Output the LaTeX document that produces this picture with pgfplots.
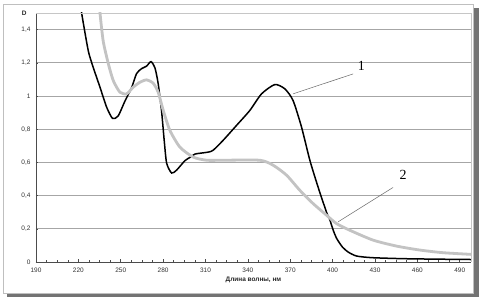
\documentclass[border=0pt]{standalone}
\usepackage{fontspec}
\setmainfont{Liberation Sans}
\newfontfamily\seriffont{Liberation Serif}
\usepackage{pgfplots}
\pgfplotsset{compat=1.18}
\definecolor{lgray}{RGB}{195,195,195}
\begin{document}
\begin{tikzpicture}
\path[use as bounding box] (-36bp,-35bp) rectangle (443bp,262bp);
\fill[black!55] (-29bp,-35bp) rectangle (443bp,254bp);
\fill[white] (-33bp,-31bp) rectangle (437bp,258bp);
\draw[gray!50, line width=0.6bp] (-33bp,-31bp) rectangle (437bp,258bp);
\begin{axis}[
  at={(0,0)}, anchor=south west,
  scale only axis, width=435bp, height=249bp,
  xmin=190, xmax=498, ymin=0, ymax=1.5,
  axis lines*=left,
  axis line style={black!70, line width=0.8bp},
  clip=true,
  xtick={190,220,...,490},
  minor x tick num=3,
  ytick={0,0.2,...,1.4},
  ymajorgrids,
  major grid style={gray!70, line width=0.6bp},
  tick style={black!70, line width=0.5bp},
  major tick length=2.5bp, minor tick length=2bp,
  tick label style={font=\fontsize{6.5}{7}\selectfont, text=black!80},
  /pgf/number format/assume math mode=true,
  yticklabel style={/pgf/number format/.cd, use comma, fixed, precision=1},
  xticklabel style={/pgf/number format/.cd, 1000 sep={}},
  xticklabel shift=2bp, yticklabel shift=2bp,
]
\addplot[black, line width=1.5bp, smooth, tension=0.4] coordinates {
(221.5,1.56) (222.3,1.50) (227,1.273) (230.5,1.173) (235.3,1.053) (240,0.933)
(244.2,0.865) (248.2,0.88) (253,0.97) (257.7,1.05) (261.2,1.135) (264.8,1.165)
(268.3,1.18) (271.4,1.207) (274.2,1.17) (276.5,1.075) (278.9,0.91) (280.8,0.73)
(282.5,0.595) (286,0.536) (289.5,0.553) (295.4,0.61) (299,0.63) (302.5,0.65)
(306,0.655) (311.9,0.662) (315.4,0.673) (322.5,0.733) (332,0.823) (341.4,0.913)
(349.7,1.013) (359.1,1.069) (366.2,1.043) (372,0.973) (378,0.813) (383.9,0.613)
(389.7,0.452) (395.7,0.30) (398,0.255) (400.5,0.19) (403,0.14) (407,0.09)
(411,0.06) (417,0.036) (428,0.026) (450,0.02) (475,0.017) (498,0.015)
};
\addplot[lgray, line width=2.8bp, smooth, tension=0.4] coordinates {
(234.8,1.56) (235.3,1.50) (237.6,1.33) (241.2,1.195) (244.7,1.093) (249.4,1.023)
(254.2,1.013) (258.8,1.053) (263.6,1.083) (268.3,1.097) (273,1.077) (276.5,1.023)
(280.1,0.913) (284.8,0.793) (291.9,0.692) (301.3,0.632) (310.8,0.613) (322.5,0.613)
(348.5,0.613) (357.9,0.583) (367.4,0.523) (376.8,0.432) (386.2,0.352) (395.7,0.282)
(402.7,0.232) (412,0.192) (428.6,0.132) (445.2,0.096) (461.7,0.072) (478.2,0.056)
(498,0.046)
};
\end{axis}
\begin{axis}[
  at={(0,0)}, anchor=south west,
  scale only axis, width=435bp, height=249bp,
  xmin=190, xmax=498, ymin=0, ymax=1.5,
  axis lines=none, clip=false,
]
\draw[gray!45, line width=0.6bp] (rel axis cs:0,1) -- (rel axis cs:1,1) -- (rel axis cs:1,0);
\node[anchor=east, font=\bfseries\fontsize{6.5}{7}\selectfont, text=black!85] at ([xshift=-6bp]rel axis cs:0,1) {D};
\node[font=\bfseries\fontsize{6.5}{7}\selectfont, text=black!85] at ([yshift=-18bp]rel axis cs:0.5,0) {Длина волны, нм};
\draw[black!60, line width=0.5bp] (axis cs:414.5,1.133) -- (axis cs:372,1.013);
\node[font=\seriffont\fontsize{14}{14}\selectfont] at (axis cs:420.4,1.183) {1};
\draw[black!60, line width=0.5bp] (axis cs:442.8,0.449) -- (axis cs:403.9,0.242);
\node[font=\seriffont\fontsize{14}{14}\selectfont] at (axis cs:449.9,0.523) {2};
\end{axis}
\end{tikzpicture}
\end{document}
